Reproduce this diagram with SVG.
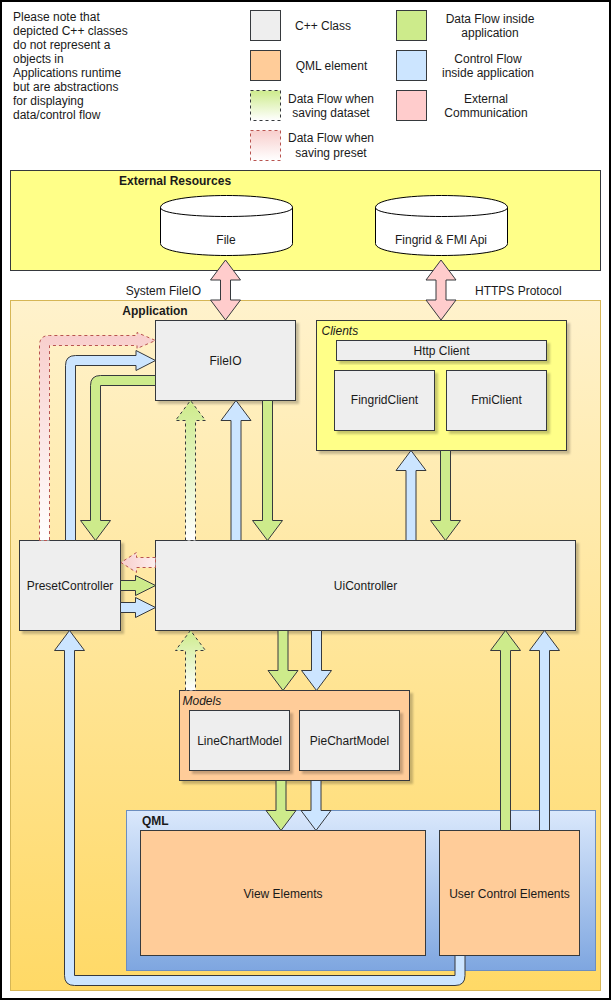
<svg xmlns="http://www.w3.org/2000/svg" width="611" height="1001" viewBox="0 0 611 1001">
<defs>
<style>
text{font-family:"Liberation Sans",Arial,Helvetica,sans-serif;font-size:12px;fill:#1a1a1a}
.c{text-anchor:middle}
.b{font-weight:bold}
.i{font-style:italic}
.cls{fill:#eeeeee;stroke:#36393d;stroke-width:1}
.qml{fill:#ffcc99;stroke:#36393d;stroke-width:1}
.yel{fill:#ffff88;stroke:#36393d;stroke-width:1}
.cyl{fill:#ffffff;stroke:#000000;stroke-width:1}
.ag{fill:#cdeb8b;stroke:#36393d;stroke-width:1}
.ab{fill:#cce5ff;stroke:#36393d;stroke-width:1}
.ap{fill:#ffcccc;stroke:#36393d;stroke-width:1}
.agd{fill:url(#gGreenDash);stroke:#36393d;stroke-width:1;stroke-dasharray:3 3}
.apd{fill:url(#gPinkDash);stroke:#b85450;stroke-width:1;stroke-dasharray:3 3}
.apdh{fill:url(#gPinkDashH);stroke:#b85450;stroke-width:1;stroke-dasharray:3 3}
.sh{filter:url(#shadow)}
</style>
<linearGradient id="gApp" x1="0" y1="0" x2="0" y2="1"><stop offset="0" stop-color="#fff2cc"/><stop offset="1" stop-color="#ffd966"/></linearGradient>
<linearGradient id="gQml" x1="0" y1="0" x2="0" y2="1"><stop offset="0" stop-color="#dae8fc"/><stop offset="1" stop-color="#7ea6e0"/></linearGradient>
<linearGradient id="gGreenDash" x1="0" y1="0" x2="0" y2="1"><stop offset="0" stop-color="#cdeb8b"/><stop offset="1" stop-color="#ffffff"/></linearGradient>
<linearGradient id="gPinkDash" x1="0" y1="0" x2="0" y2="1"><stop offset="0" stop-color="#f8cecc"/><stop offset="1" stop-color="#ffffff"/></linearGradient>
<linearGradient id="gPinkDashH" x1="0" y1="0" x2="1" y2="0"><stop offset="0" stop-color="#f8cecc"/><stop offset="1" stop-color="#fdeeee"/></linearGradient>
<filter id="shadow" x="-10%" y="-10%" width="130%" height="130%"><feDropShadow dx="3" dy="3" stdDeviation="0.8" flood-color="#000000" flood-opacity="0.22"/></filter>
</defs>

<rect x="0" y="0" width="611" height="1001" fill="#ffffff"/>
<rect x="1" y="1" width="609" height="998" fill="none" stroke="#000000" stroke-width="2"/>

<g id="legend">
<text x="13" y="21">Please note that</text>
<text x="13" y="35">depicted C++ classes</text>
<text x="13" y="49">do not represent a</text>
<text x="13" y="63">objects in</text>
<text x="13" y="77">Applications runtime</text>
<text x="13" y="91">but are abstractions</text>
<text x="13" y="105">for displaying</text>
<text x="13" y="119">data/control flow</text>
<rect x="250.5" y="10.5" width="30" height="30" class="cls"/>
<text x="323" y="30" class="c">C++ Class</text>
<rect x="250.5" y="50.5" width="30" height="30" class="qml"/>
<text x="331.5" y="70" class="c">QML element</text>
<rect x="250.5" y="90.5" width="30" height="30" class="agd"/>
<text x="331" y="103" class="c">Data Flow when</text>
<text x="331" y="117" class="c">saving dataset</text>
<rect x="250.5" y="130.5" width="30" height="30" class="apd"/>
<text x="331" y="142" class="c">Data Flow when</text>
<text x="331" y="157" class="c">saving preset</text>
<rect x="396.5" y="10.5" width="30" height="30" class="ag"/>
<text x="490" y="23" class="c">Data Flow inside</text>
<text x="490" y="37" class="c">application</text>
<rect x="396.5" y="50.5" width="30" height="30" class="ab"/>
<text x="488" y="63" class="c">Control Flow</text>
<text x="488" y="77" class="c">inside application</text>
<rect x="396.5" y="90.5" width="30" height="30" class="ap"/>
<text x="486" y="103" class="c">External</text>
<text x="486" y="117" class="c">Communication</text>
</g>

<g id="external-resources">
<rect x="10.5" y="170.5" width="590" height="100" class="yel"/>
<text x="119" y="185" class="b">External Resources</text>
</g>
<g id="file">
<path d="M160.5,207.5 C160.5,191.5 292.5,191.5 292.5,207.5 L292.5,243.5 C292.5,259.5 160.5,259.5 160.5,243.5 Z" class="cyl"/>
<path d="M160.5,207.5 C160.5,219.5 292.5,219.5 292.5,207.5" fill="none" stroke="#000000"/>
<text x="226" y="244" class="c">File</text>
</g>
<g id="api">
<path d="M375.5,207.5 C375.5,191.5 507.5,191.5 507.5,207.5 L507.5,243.5 C507.5,259.5 375.5,259.5 375.5,243.5 Z" class="cyl"/>
<path d="M375.5,207.5 C375.5,219.5 507.5,219.5 507.5,207.5" fill="none" stroke="#000000"/>
<text x="441" y="244" class="c">Fingrid &amp; FMI Api</text>
</g>

<g id="application">
<rect x="10.5" y="300.5" width="590" height="690" fill="url(#gApp)" stroke="#d6b656"/>
<text x="155" y="315" class="c b">Application</text>
</g>

<g id="fileio">
<rect x="155.5" y="320.5" width="140" height="80" class="cls sh"/>
<text x="225.5" y="365" class="c">FileIO</text>
</g>

<g id="clients">
<rect x="316.5" y="320.5" width="250" height="130" class="yel sh"/>
<text x="321.5" y="335" class="i">Clients</text>
</g>
<g id="http-client">
<rect x="336.5" y="340.5" width="210" height="20" class="cls sh"/>
<text x="441.5" y="355" class="c">Http Client</text>
</g>
<g id="fingrid-client">
<rect x="334.5" y="370.5" width="100" height="60" class="cls sh"/>
<text x="384.5" y="404" class="c">FingridClient</text>
</g>
<g id="fmi-client">
<rect x="446.5" y="370.5" width="100" height="60" class="cls sh"/>
<text x="496.5" y="404" class="c">FmiClient</text>
</g>

<g id="preset-controller">
<rect x="19.5" y="540.5" width="101" height="90" class="cls sh"/>
<text x="70" y="589.5" class="c">PresetController</text>
</g>

<g id="ui-controller">
<rect x="155.5" y="540.5" width="420" height="90" class="cls sh"/>
<text x="365.5" y="589.5" class="c">UiController</text>
</g>

<g id="models">
<rect x="179.5" y="690.5" width="230" height="90" class="qml sh"/>
<text x="182.5" y="704.5" class="i">Models</text>
</g>
<g id="line-chart-model">
<rect x="189.5" y="710.5" width="100" height="60" class="cls sh"/>
<text x="239.5" y="744.5" class="c">LineChartModel</text>
</g>
<g id="pie-chart-model">
<rect x="299.5" y="710.5" width="100" height="60" class="cls sh"/>
<text x="349.5" y="744.5" class="c">PieChartModel</text>
</g>

<g id="qml">
<rect x="126.5" y="810.5" width="469" height="160" fill="url(#gQml)" stroke="#6c8ebf"/>
<text x="142" y="825" class="b">QML</text>
</g>
<g id="view-elements">
<rect x="140.5" y="830.5" width="285" height="125" class="qml"/>
<text x="283" y="897.5" class="c">View Elements</text>
</g>
<g id="user-control-elements">
<rect x="439.5" y="830.5" width="140" height="125" class="qml"/>
<text x="509.5" y="897.5" class="c">User Control Elements</text>
</g>

<g id="connectors">
<text x="201" y="294.5" style="text-anchor:end">System FileIO</text>
<text x="475" y="294.5">HTTPS Protocol</text>
<path class="ap" d="M225.5,260 L240.5,280 L230.5,280 L230.5,300 L240.5,300 L225.5,320 L210.5,300 L220.5,300 L220.5,280 L210.5,280 Z"/>
<path class="ap" d="M441,260 L456,280 L446,280 L446,300 L456,300 L441,320 L426,300 L436,300 L436,280 L426,280 Z"/>

<path class="apd" d="M39.5,540.5 L39.5,345.5 Q39.5,335.5 49.5,335.5 L137,335.5 L137,332.5 L155.5,340.5 L137,348.5 L137,345.5 L49.5,345.5 L49.5,540.5 Z"/>
<path class="ab" d="M65.5,540.5 L65.5,365.5 Q65.5,355.5 75.5,355.5 L136,355.5 L136,350.5 L155.5,360.5 L136,370.5 L136,365.5 L75.5,365.5 L75.5,540.5 Z"/>
<path class="ag" d="M155.5,375.5 L100.5,375.5 Q90.5,375.5 90.5,385.5 L90.5,520.5 L80.5,520.5 L95.5,540.5 L110.5,520.5 L100.5,520.5 L100.5,385.5 L155.5,385.5 Z"/>

<path class="agd" d="M185.5,540.5 L185.5,420.5 L175.5,420.5 L190.5,400.5 L205.5,420.5 L195.5,420.5 L195.5,540.5 Z"/>
<path class="ab" d="M231,540.5 L231,420.5 L221,420.5 L236,400.5 L251,420.5 L241,420.5 L241,540.5 Z"/>
<path class="ag" d="M262.5,400.5 L262.5,520.5 L252.5,520.5 L267.5,540.5 L282.5,520.5 L272.5,520.5 L272.5,400.5 Z"/>

<path class="ab" d="M406,540.5 L406,470.5 L396,470.5 L411,450.5 L426,470.5 L416,470.5 L416,540.5 Z"/>
<path class="ag" d="M440.5,450.5 L440.5,520.5 L430.5,520.5 L445.5,540.5 L460.5,520.5 L450.5,520.5 L450.5,450.5 Z"/>

<path class="apdh" d="M155.5,557.5 L136.5,557.5 L136.5,552.5 L121,562.5 L136.5,572.5 L136.5,567.5 L155.5,567.5 Z"/>
<path class="ag" d="M120.5,580.5 L135.5,580.5 L135.5,575.5 L155.5,585.5 L135.5,595.5 L135.5,590.5 L120.5,590.5 Z"/>
<path class="ab" d="M120.5,602.5 L135.5,602.5 L135.5,597.5 L155.5,607.5 L135.5,617.5 L135.5,612.5 L120.5,612.5 Z"/>

<path class="agd" d="M185.5,690.5 L185.5,650.5 L175.5,650.5 L190.5,630.5 L205.5,650.5 L195.5,650.5 L195.5,690.5 Z"/>
<path class="ag" d="M278,630.5 L278,670.5 L268,670.5 L283,690.5 L298,670.5 L288,670.5 L288,630.5 Z"/>
<path class="ab" d="M311.5,630.5 L311.5,670.5 L301.5,670.5 L316.5,690.5 L331.5,670.5 L321.5,670.5 L321.5,630.5 Z"/>

<path class="ag" d="M276,780.5 L276,810.5 L266,810.5 L281,830.5 L296,810.5 L286,810.5 L286,780.5 Z"/>
<path class="ab" d="M311,780.5 L311,810.5 L301,810.5 L316,830.5 L331,810.5 L321,810.5 L321,780.5 Z"/>

<path class="ag" d="M500.5,830.5 L500.5,650.5 L490.5,650.5 L505.5,630.5 L520.5,650.5 L510.5,650.5 L510.5,830.5 Z"/>
<path class="ab" d="M539.5,830.5 L539.5,650.5 L529.5,650.5 L544.5,630.5 L559.5,650.5 L549.5,650.5 L549.5,830.5 Z"/>

<path class="ab" d="M455,955.5 L455,975.5 L74.5,975.5 L74.5,650.5 L84.5,650.5 L69.5,630.5 L54.5,650.5 L64.5,650.5 L64.5,975.5 Q64.5,985.5 74.5,985.5 L455,985.5 Q465,985.5 465,975.5 L465,955.5 Z"/>
</g>
</svg>
